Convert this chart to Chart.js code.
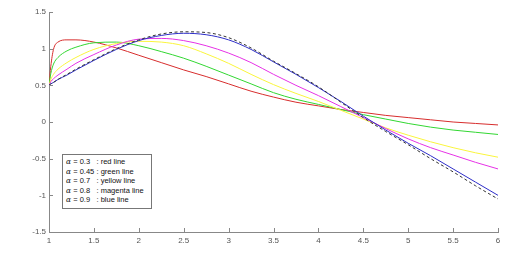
<!DOCTYPE html>
<html lang="en">
<head>
    <meta charset="UTF-8">
    <title>Fractional order solutions</title>
    <style>
        html, body {
            margin: 0;
            padding: 0;
            background: #fff;
        }
        #wrap {
            position: relative;
            width: 528px;
            height: 254px;
        }
        #legendBox {
            position: absolute;
            left: 62px;
            top: 154px;
            width: 90px;
            height: 55px;
            box-sizing: border-box;
            border: 1px solid #777;
            background: #fff;
            padding: 2px 0 0 3px;
            font-family: "Liberation Sans", Arial, sans-serif;
            font-size: 7.5px;
            line-height: 9.6px;
            color: #111;
            white-space: nowrap;
        }
        .alpha { font-family: "DejaVu Serif", serif; font-style: italic; }
        .key { display: inline-block; width: 30.5px; }
    </style>
    <script src="https://cdn.jsdelivr.net/npm/chart.js"></script>
</head>
<body>
<div id="wrap">
    <canvas id="chart" width="528" height="254"></canvas>
    <div id="legendBox"></div>
</div>
<script>
    const xs = [1, 1.02, 1.05, 1.1, 1.2, 1.3, 1.5, 1.75, 2, 2.25, 2.5, 2.75, 3,
                3.25, 3.5, 3.75, 4, 4.25, 4.5, 4.75, 5, 5.25, 5.5, 5.75, 6];

    const red     = [0.5, 0.76, 0.99, 1.09, 1.12, 1.12, 1.09, 1.01, 0.91, 0.81, 0.71, 0.62, 0.52,
                     0.42, 0.34, 0.27, 0.22, 0.17, 0.13, 0.09, 0.06, 0.03, 0.0, -0.02, -0.04];
    const green   = [0.5, 0.66, 0.79, 0.88, 0.97, 1.02, 1.08, 1.09, 1.04, 0.96, 0.87, 0.76, 0.64,
                     0.52, 0.40, 0.31, 0.24, 0.17, 0.10, 0.04, -0.02, -0.07, -0.11, -0.14, -0.17];
    const yellow  = [0.5, 0.58, 0.65, 0.72, 0.81, 0.88, 0.99, 1.07, 1.10, 1.09, 1.04, 0.93, 0.80,
                     0.65, 0.51, 0.39, 0.28, 0.16, 0.04, -0.08, -0.18, -0.27, -0.35, -0.42, -0.48];
    const magenta = [0.5, 0.55, 0.59, 0.64, 0.72, 0.80, 0.92, 1.05, 1.13, 1.14, 1.11, 1.04, 0.94,
                     0.81, 0.65, 0.50, 0.36, 0.21, 0.06, -0.09, -0.23, -0.35, -0.45, -0.55, -0.64];
    const blue    = [0.5, 0.52, 0.54, 0.58, 0.64, 0.71, 0.84, 0.99, 1.11, 1.18, 1.21, 1.19, 1.12,
                     0.99, 0.82, 0.65, 0.47, 0.28, 0.08, -0.11, -0.29, -0.46, -0.64, -0.82, -1.0];
    const exact   = [0.5, 0.52, 0.54, 0.58, 0.65, 0.72, 0.85, 1.0, 1.12, 1.2, 1.23, 1.22, 1.15,
                     1.01, 0.83, 0.66, 0.48, 0.27, 0.06, -0.13, -0.31, -0.50, -0.68, -0.87, -1.05];

    const xTicks = [1, 1.5, 2, 2.5, 3, 3.5, 4, 4.5, 5, 5.5, 6];
    const xTickLabels = ['1', '1.5', '2', '2.5', '3', '3.5', '4', '4.5', '5', '5.5', '6'];
    const yTicks = [-1.5, -1, -0.5, 0, 0.5, 1, 1.5];
    const yTickLabels = ['-1.5', '-1', '-0.5', '0', '0.5', '1', '1.5'];

    const alphas = ['0.3', '0.45', '0.7', '0.8', '0.9'];
    const lineNames = ['red line', 'green line', 'yellow line', 'magenta line', 'blue line'];

    // legend text box
    document.getElementById('legendBox').innerHTML = alphas.map((a, i) =>
        '<div><span class="key"><span class="alpha">\u03b1</span> = ' + a + '</span>: ' + lineNames[i] + '</div>'
    ).join('');

    const pts = ys => xs.map((x, i) => ({ x: x, y: ys[i] }));

    function series(ys, color, extra) {
        return Object.assign({
            data: pts(ys),
            borderColor: color,
            borderWidth: 1,
            pointRadius: 0,
            fill: false,
            cubicInterpolationMode: 'monotone'
        }, extra || {});
    }

    // small inward tick marks like the original
    const inwardTicks = {
        id: 'inwardTicks',
        afterDraw(chart) {
            const { ctx, chartArea: a, scales: { x, y } } = chart;
            ctx.save();
            ctx.strokeStyle = '#888';
            ctx.lineWidth = 1;
            ctx.beginPath();
            x.ticks.forEach(t => {
                const px = Math.round(x.getPixelForValue(t.value)) + 0.5;
                ctx.moveTo(px, a.bottom);
                ctx.lineTo(px, a.bottom - 4);
            });
            y.ticks.forEach(t => {
                const py = Math.round(y.getPixelForValue(t.value)) + 0.5;
                ctx.moveTo(a.left, py);
                ctx.lineTo(a.left + 4, py);
            });
            ctx.stroke();
            ctx.restore();
        }
    };

    const tickFont = { family: '"Liberation Sans", Arial, sans-serif', size: 8 };

    new Chart(document.getElementById('chart'), {
        type: 'line',
        data: {
            datasets: [
                series(exact, '#333', { borderDash: [3, 2.5] }),
                series(blue, 'rgb(45,45,200)'),
                series(magenta, 'rgb(230,50,230)'),
                series(yellow, 'rgb(250,245,60)'),
                series(green, 'rgb(50,215,50)'),
                series(red, 'rgb(215,45,45)')
            ]
        },
        options: {
            responsive: false,
            animation: false,
            devicePixelRatio: 1,
            layout: { padding: { top: 12, right: 30, left: 0, bottom: 0 } },
            plugins: { legend: { display: false }, tooltip: { enabled: false } },
            scales: {
                x: {
                    type: 'linear',
                    min: 1,
                    max: 6,
                    afterBuildTicks: s => { s.ticks = xTicks.map(v => ({ value: v })); },
                    afterFit: s => { s.height = 22; },
                    grid: { display: false, drawTicks: false },
                    border: { display: true, color: '#888' },
                    ticks: {
                        font: tickFont,
                        color: '#555',
                        padding: 4,
                        maxRotation: 0,
                        autoSkip: false,
                        callback: (v, i) => xTickLabels[i]
                    }
                },
                y: {
                    min: -1.5,
                    max: 1.5,
                    afterBuildTicks: s => { s.ticks = yTicks.map(v => ({ value: v })); },
                    afterFit: s => { s.width = 49; },
                    grid: { display: false, drawTicks: false },
                    border: { display: true, color: '#888' },
                    ticks: {
                        font: tickFont,
                        color: '#555',
                        padding: 3,
                        autoSkip: false,
                        callback: (v, i) => yTickLabels[i]
                    }
                }
            }
        },
        plugins: [inwardTicks]
    });
</script>
</body>
</html>
